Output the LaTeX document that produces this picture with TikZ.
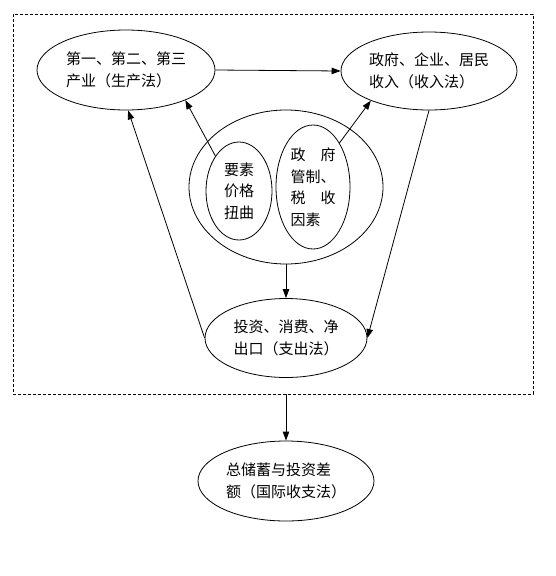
\documentclass[tikz,border=0pt]{standalone}
\usepackage{fontspec}
\newfontfamily\cjk{Noto Sans CJK SC}
\usetikzlibrary{arrows.meta,positioning,shapes.geometric}

\begin{document}
\begin{tikzpicture}[x=1pt,y=-1pt,
  ell/.style={draw, ellipse, inner sep=0pt, line width=0.8pt, align=left,
    font=\cjk\fontsize{15}{21.5}\selectfont},
  arr/.style={-{Triangle[length=9pt,width=6.5pt]}, line width=0.8pt}]
  \useasboundingbox (0,0) rectangle (555,576);
  % dashed frame
  \node[draw, dash pattern=on 3pt off 2pt, line width=0.8pt, inner sep=0pt,
    minimum width=520pt, minimum height=380pt] (frame) at (273,204) {};
  % top ellipses
  \node[ell, minimum width=178pt, minimum height=80pt] (prod) at (126,70)
    {第一、第二、第三\\产业（生产法）};
  \node[ell, minimum width=176pt, minimum height=78pt] (inc) at (429,71)
    {政府、企业、居民\\收入（收入法）};
  % middle ellipse with two inner ones
  \node[draw, ellipse, line width=0.8pt, minimum width=194pt, minimum height=154pt] (mid) at (286,187) {};
  \node[ell, minimum width=66pt, minimum height=98pt] (factor) at (239,191)
    {要素\\价格\\扭曲};
  \node[ell, minimum width=74pt, minimum height=124pt] (gov) at (313,187)
    {政　府\\管制、\\税　收\\因素};
  % bottom ellipses
  \node[ell, minimum width=162pt, minimum height=79pt] (exp) at (286,338)
    {投资、消费、净\\出口（支出法）};
  \node[ell, minimum width=176pt, minimum height=80pt] (gap) at (286,481)
    {总储蓄与投资差\\额（国际收支法）};
  % arrows
  \draw[arr] (prod.east) -- (inc.west);
  \draw[arr] (factor.124) -- (prod.-27);
  \draw[arr] (gov.59) -- (inc.207);
  \draw[arr] (mid.south) -- (exp.north);
  \draw[arr] (exp.west) -- (prod.-87);
  \draw[arr] (inc.south) -- (exp.east);
  \draw[arr] (frame.south -| gap.north) -- (gap.north);
\end{tikzpicture}
\end{document}
